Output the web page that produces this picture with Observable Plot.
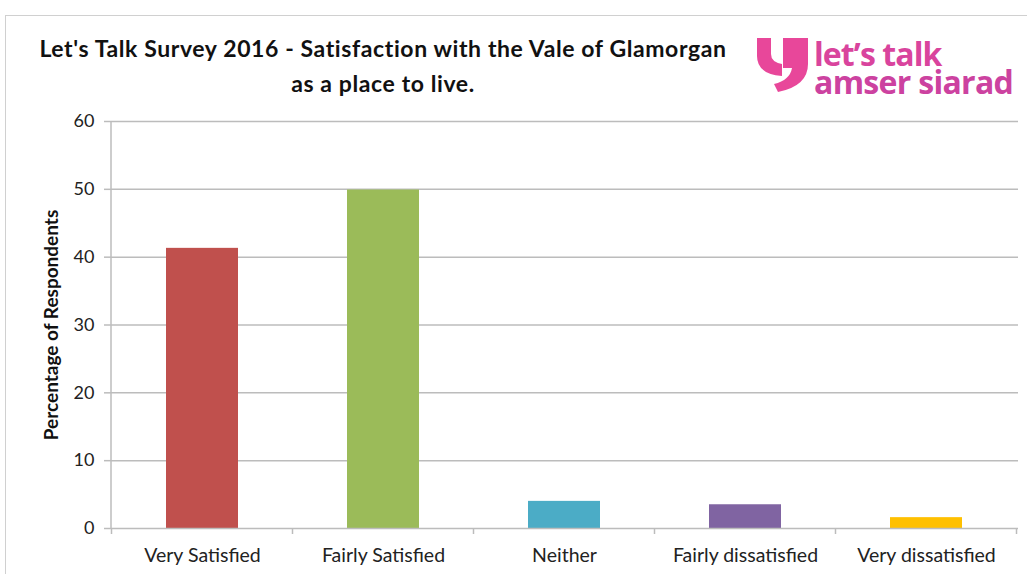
<!DOCTYPE html>
<html>
<head>
<meta charset="utf-8">
<script src="https://cdn.jsdelivr.net/npm/d3@7"></script>
<script src="https://cdn.jsdelivr.net/npm/@observablehq/plot@0.6"></script>
<style>
  body { margin: 0; background: #fff; }
  #wrap { position: relative; width: 1027px; height: 574px; overflow: hidden; font-family: Lato, "Open Sans", sans-serif; }
  #border { position: absolute; left: 5px; top: 15px; width: 1100px; height: 700px; border: 1px solid #d0d0d0; }
  #title { position: absolute; left: 20px; width: 726px; top: 31px; text-align: center; font-weight: bold; font-size: 23px; letter-spacing: 0.6px; line-height: 35px; color: #111; }
  #mark { position: absolute; left: 754px; top: 34px; }
  .logoline { position: absolute; left: 814px; font-family: "Open Sans", Lato, sans-serif; font-weight: 700; font-size: 32px; line-height: 28px; height: 28px; white-space: nowrap; color: #d9449d; }
  #l1 { top: 40px; letter-spacing: -0.9px; }
  #l2 { top: 68px; letter-spacing: -0.7px; color: #cc42a0; }
  #chart { position: absolute; left: 0; top: 0; }
</style>
</head>
<body>
<div id="wrap">
  <div id="border"></div>
  <div id="chart"></div>
  <div id="title">Let's Talk Survey 2016 - Satisfaction with the Vale of Glamorgan<br>as a place to live.</div>
  <svg id="mark" width="60" height="64" viewBox="0 0 60 64">
    <path d="M3 4 H17 V20 Q17 28 28 30 V42 Q3 40 3 22 Z" fill="#e8479a"/>
    <path d="M29 4 H54 V30 Q54 52 24 58 L20 50 Q36 46 38 34 H29 Z" fill="#e8479a"/>
  </svg>
  <div class="logoline" id="l1">let’s talk</div>
  <div class="logoline" id="l2">amser siarad</div>
</div>
<script>
const categories = ["Very Satisfied", "Fairly Satisfied", "Neither", "Fairly dissatisfied", "Very dissatisfied"];
const values = [41.3, 49.9, 4.0, 3.5, 1.6];
const barColors = ["#c0504d", "#9bbb59", "#4bacc6", "#8064a2", "#ffc000"];
const yTicks = [0, 10, 20, 30, 40, 50, 60];
const yLabel = "Percentage of Respondents";

const data = categories.map((c, i) => ({cat: c, value: values[i], color: barColors[i]}));

const gridColor = "#bcbcbc";

function axisLines(index, scales, vals, dims) {
  const x = scales.x, y = scales.y;
  const bw = x.bandwidth();
  const step = x(categories[1]) - x(categories[0]);
  const gap = (step - bw) / 2;
  const g = d3.create("svg:g").attr("stroke", gridColor).attr("stroke-width", 1.5).attr("fill", "none");
  const x0 = dims.marginLeft;
  g.append("line").attr("x1", x0).attr("x2", x0).attr("y1", y(0)).attr("y2", y(yTicks[yTicks.length - 1]));
  const bounds = categories.map(c => x(c) - gap);
  bounds.push(x(categories[categories.length - 1]) + bw + gap);
  for (const b of bounds) {
    g.append("line").attr("x1", b).attr("x2", b).attr("y1", y(0)).attr("y2", y(0) + 6);
  }
  return g.node();
}

const chart = Plot.plot({
  width: 1027,
  height: 574,
  marginLeft: 111,
  marginRight: 9,
  marginTop: 121,
  marginBottom: 46,
  style: {fontFamily: "Lato, 'Open Sans', sans-serif", background: "transparent", color: "#222"},
  x: {domain: categories, paddingInner: 0.6, paddingOuter: 0.3, axis: null},
  y: {domain: [0, 60], axis: null},
  marks: [
    Plot.gridY(yTicks.slice(1), {stroke: gridColor, strokeOpacity: 1, strokeWidth: 1.5}),
    Plot.barY(data, {x: "cat", y: "value", fill: d => d.color}),
    Plot.ruleY([0], {stroke: gridColor, strokeWidth: 1.5}),
    axisLines,
    Plot.axisY({ticks: yTicks, tickSize: 7, tickPadding: 10, fontSize: 18, label: null, stroke: gridColor, strokeWidth: 1.5, color: "#222"}),
    Plot.axisX({tickSize: 0, tickPadding: 20, fontSize: 19.5, label: null, color: "#222", style: {letterSpacing: "0.7px"}}),
    Plot.text([yLabel], {frameAnchor: "left", textAnchor: "middle", rotate: -90, dx: -60, fontWeight: "bold", fontSize: 19, fill: "#111", style: {letterSpacing: "0.6px"}})
  ]
});
document.getElementById("chart").appendChild(chart);
</script>
</body>
</html>
